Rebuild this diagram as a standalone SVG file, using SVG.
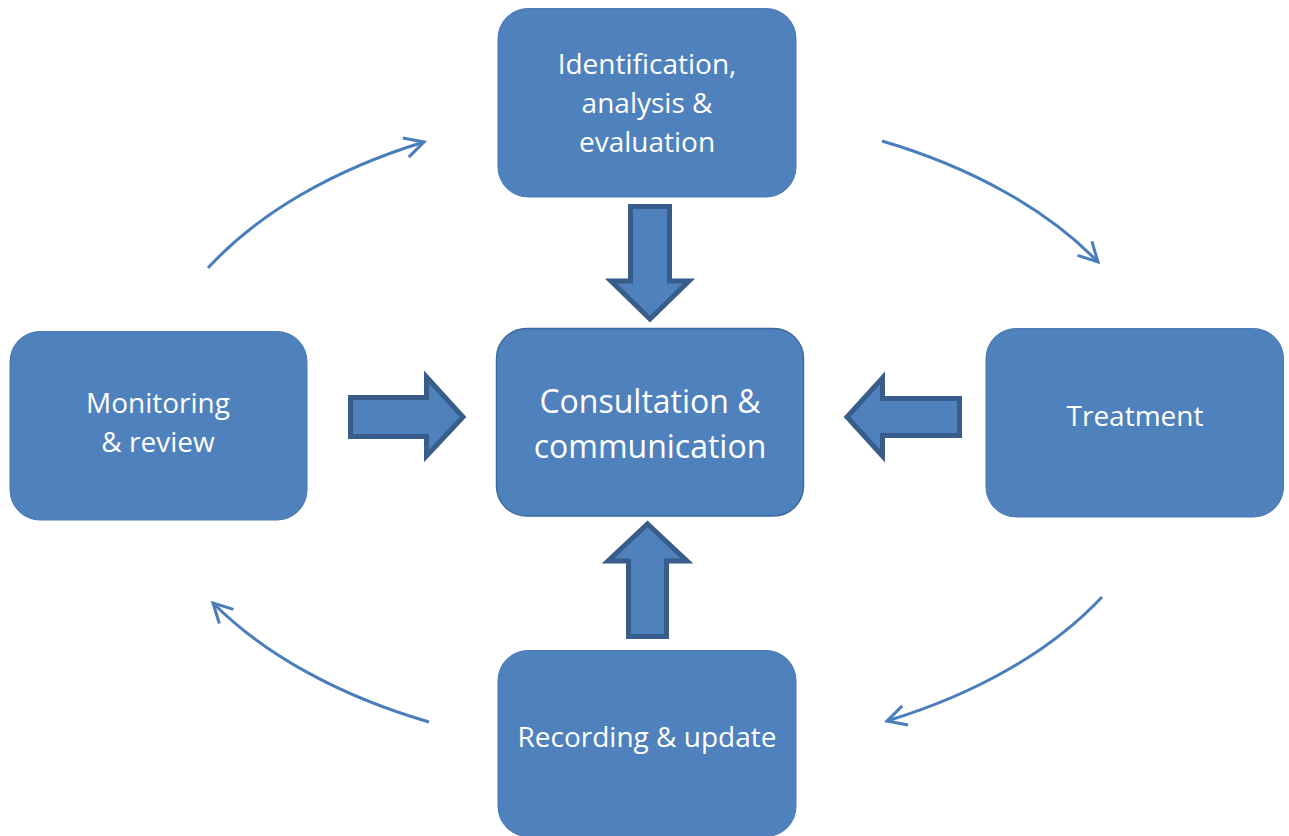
<svg xmlns="http://www.w3.org/2000/svg" width="1289" height="836" viewBox="0 0 1289 836">
  <style>
    .box { fill: #4F81BD; stroke: #4A7AB5; stroke-width: 1; }
    .hub { fill: #4F81BD; stroke: #3E6A9C; stroke-width: 1.5; }
    .label { fill: #FFFFFF; font-family: "Open Sans", "Liberation Sans", sans-serif; font-size: 28px; text-anchor: middle; }
    .hub-label { font-size: 32px; }
    .block { fill: #4F81BD; stroke: #385D8A; stroke-width: 5; stroke-linejoin: miter; }
    .cycle { fill: none; stroke: #4A7EBB; stroke-width: 3; marker-end: url(#chevron); }
  </style>
  <defs>
    <marker id="chevron" markerUnits="userSpaceOnUse" markerWidth="30" markerHeight="30" refX="0" refY="0" viewBox="-22 -15 30 30" orient="auto" overflow="visible">
      <path d="M-19,-10 L0,0 L-19,10" fill="none" stroke="#4A7EBB" stroke-width="3" stroke-linejoin="miter"/>
    </marker>
  </defs>

  <rect width="1289" height="836" fill="#FFFFFF"/>

  <!-- outer cycle and block arrows -->
  <g id="connectors">
    <path class="cycle" d="M208,268 A507,311 0 0 1 424,142"/>
    <path class="cycle" d="M882,141 A507,311 0 0 1 1098,262"/>
    <path class="cycle" d="M1102,597 A507,311 0 0 1 887,721"/>
    <path class="cycle" d="M429,722 A507,311 0 0 1 213,603"/>

    <path class="block" d="M630.5,206.5 H669.5 V281 H689 L650,319 L611,281 H630.5 Z"/>
    <path class="block" d="M350.5,397.5 H426.5 V377 L463,417 L426.5,456 V436.5 H350.5 Z"/>
    <path class="block" d="M959.5,398.5 H882.5 V378 L847,417 L882.5,456 V435.5 H959.5 Z"/>
    <path class="block" d="M628.5,636.5 V561 H608 L647.5,524 L687,561 H666.5 V636.5 Z"/>
  </g>

  <g id="identification">
    <rect class="box" x="498" y="8.5" width="298" height="188.5" rx="30"/>
    <text class="label" x="647" y="74">Identification,</text>
    <text class="label" x="647" y="113">analysis &amp;</text>
    <text class="label" x="647" y="152">evaluation</text>
  </g>

  <g id="treatment">
    <rect class="box" x="986" y="328.5" width="297.5" height="188.5" rx="30"/>
    <text class="label" x="1135" y="426">Treatment</text>
  </g>

  <g id="recording">
    <rect class="box" x="498" y="650.5" width="298" height="186" rx="30"/>
    <text class="label" x="647" y="747">Recording &amp; update</text>
  </g>

  <g id="monitoring">
    <rect class="box" x="10" y="331.5" width="297" height="188.5" rx="30"/>
    <text class="label" x="158" y="413">Monitoring</text>
    <text class="label" x="158" y="452">&amp; review</text>
  </g>

  <g id="consultation">
    <rect class="hub" x="496.5" y="328.5" width="307" height="187.5" rx="30"/>
    <text class="label hub-label" x="650" y="413">Consultation &amp;</text>
    <text class="label hub-label" x="650" y="458">communication</text>
  </g>
</svg>
